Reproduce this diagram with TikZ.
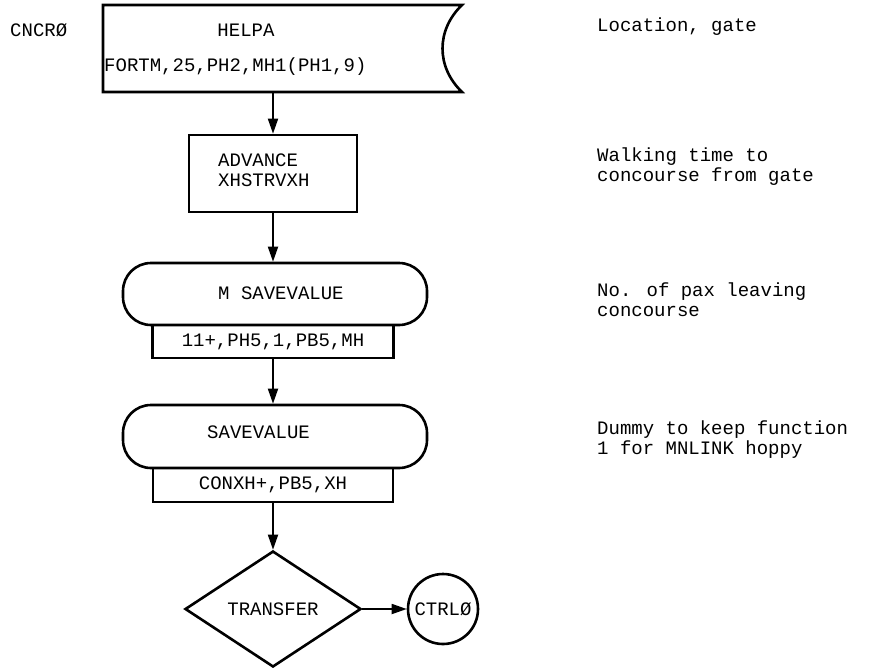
\documentclass[tikz,border=0pt]{standalone}
\usepackage{fontspec}
\setmainfont{Liberation Mono}
\usetikzlibrary{shapes.geometric,arrows.meta}
\begin{document}
\begin{tikzpicture}[x=1pt,y=-1pt,
  every node/.style={font=\fontsize{19}{20}\selectfont, inner sep=0pt},
  shp/.style={draw, line width=2.6pt},
  boxn/.style={shp, rectangle},
  rbox/.style={shp, rectangle, rounded corners=28pt},
  lbl/.style={anchor=west, align=left},
  arr/.style={line width=1.8pt, -{Triangle[length=15pt,width=10pt]}}]
\useasboundingbox (0,0) rectangle (874,667);
% HELPA block
\draw[shp, line join=miter] (103,5) -- (462,5) .. controls (436,30) and (436,67) .. (462,92) -- (103,92) -- cycle;
\node (helpa) at (246,30) {HELPA};
\node[lbl] (helpaop) at (104,67) {FORTM,25,PH2,MH1(PH1,9)};
\coordinate (helpaS) at (273,92);
\node[lbl] (cncr) at (10,30) {CNCRØ};
% ADVANCE
\node[boxn, minimum width=168pt, minimum height=77pt] (adv) at (273,173.5) {};
\node[lbl] (advt) at (218,170) {ADVANCE\\XHSTRVXH};
% SAVEVALUE 1
\node[rbox, minimum width=304pt, minimum height=62pt] (sv1) at (275,294) {};
\node[lbl] (sv1t) at (218,293) {M SAVEVALUE};
\node[boxn, minimum width=241pt, minimum height=33pt] (op1) at (273,341.5) {11+,PH5,1,PB5,MH};
% SAVEVALUE 2
\node[rbox, minimum width=304pt, minimum height=63pt] (sv2) at (275,436.5) {};
\node[lbl] (sv2t) at (207,432) {SAVEVALUE};
\node[boxn, minimum width=240pt, minimum height=34pt] (op2) at (273,485) {CONXH+,PB5,XH};
% TRANSFER
\node[shp, diamond, minimum width=176pt, minimum height=116pt, aspect=1.5] (tr) at (273,609) {TRANSFER};
\node[shp, circle, minimum size=70pt] (ctrl) at (443,609) {CTRLØ};
% connectors
\draw[arr] (helpaS) -- (adv.north);
\draw[arr] (adv.south) -- (adv.south |- sv1.north);
\draw[arr] (op1.south) -- (op1.south |- sv2.north);
\draw[arr] (op2.south) -- (tr.north);
\draw[arr] (tr.east) -- (ctrl.west);
% annotations
\node[lbl] (n1) at (597,27) {Location, gate};
\node[lbl] (n2) at (597,167) {Walking time to\\concourse from gate};
\node[lbl] (n3) at (597,300) {No. of pax leaving\\concourse};
\node[lbl] (n4) at (597,440) {Dummy to keep function\\1 for MNLINK hoppy};
\end{tikzpicture}
\end{document}
